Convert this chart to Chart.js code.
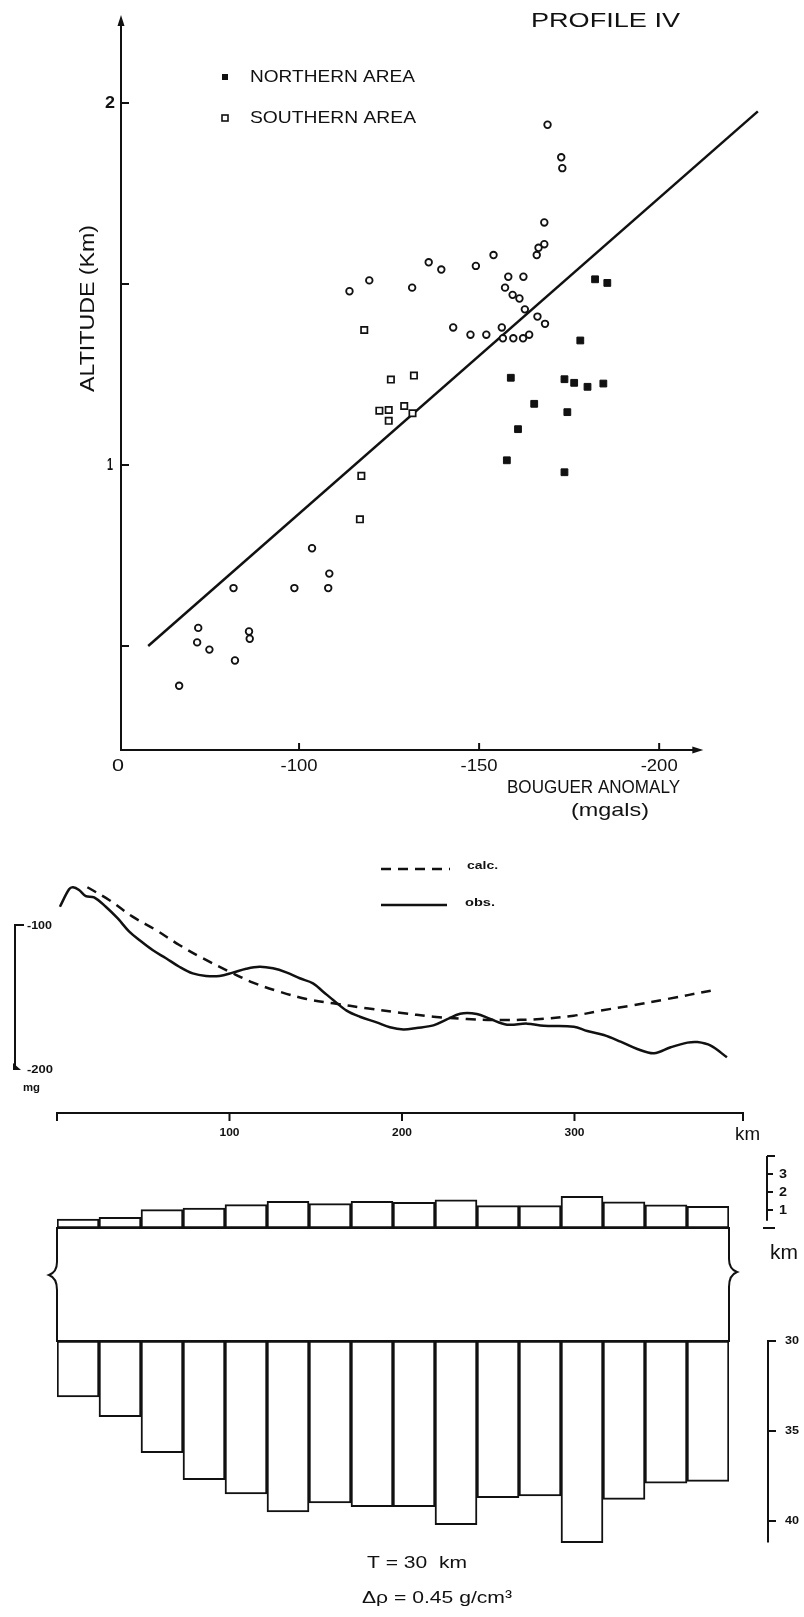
<!DOCTYPE html>
<html>
<head>
<meta charset="utf-8">
<title>Profile IV</title>
<script src="https://cdn.jsdelivr.net/npm/chart.js@4.4.1/dist/chart.umd.min.js"></script>
<style>
  html, body { margin: 0; padding: 0; background: #fff; }
  body { width: 804px; height: 1617px; position: relative; overflow: hidden; }
  canvas { position: absolute; left: 0; }
</style>
</head>
<body>
<canvas id="scatter" width="804" height="830" style="top:0"></canvas>
<canvas id="profile" width="804" height="320" style="top:830px"></canvas>
<canvas id="blocks" width="804" height="467" style="top:1150px"></canvas>
<script>
// ---- top panel: altitude vs Bouguer anomaly ----
const northAnomaly  = [-182.2, -185.6, -178.1, -158.8, -173.7, -176.4, -180.1, -184.5, -165.3, -174.5, -160.8, -157.7, -173.7];
const northAltitude = [1.513, 1.503, 1.344, 1.241, 1.237, 1.227, 1.216, 1.225, 1.169, 1.146, 1.099, 1.013, 0.98];

const southAnomaly  = [-118.1, -125.5, -131.9, -129.2, -131.5, -122.3, -124.9, -124.9, -117.3, -116.9];
const southAltitude = [1.373, 1.236, 1.247, 1.163, 1.143, 1.15, 1.152, 1.122, 0.97, 0.85];

// open circles (no legend entry in the original)
const circleAnomaly  = [-169.0, -172.8, -173.1, -168.1, -168.1, -166.5, -166.0, -136.0, -139.5, -149.1, -154.0,
                        -131.4, -158.1, -162.3, -157.2, -159.3, -161.2, -162.7, -166.2, -168.3, -142.8, -147.6,
                        -152.0, -156.3, -156.6, -159.5, -162.2, -163.9, -114.0, -119.5, -103.6, -108.4, -108.1,
                        -98.7, -81.8, -72.0, -71.7, -75.1, -86.1, -86.3, -82.2, -66.7];
const circleAltitude = [1.94, 1.85, 1.82, 1.67, 1.61, 1.60, 1.58, 1.56, 1.54, 1.55, 1.58,
                        1.49, 1.52, 1.52, 1.49, 1.47, 1.46, 1.43, 1.41, 1.39, 1.38, 1.36,
                        1.36, 1.38, 1.35, 1.35, 1.35, 1.36, 1.48, 1.51, 0.77, 0.70, 0.66,
                        0.66, 0.66, 0.55, 0.51, 0.49, 0.54, 0.52, 0.46, 0.39];

const fitAnomaly  = [-58.1, -227.4];
const fitAltitude = [0.5, 1.977];

const anomalyTicks      = [-50, -100, -150, -200];
const anomalyTickLabels = ['0', '-100', '-150', '-200'];
const altitudeTicks      = [0.5, 1, 1.5, 2];
const altitudeTickLabels = ['', '1', '', '2'];

// ---- middle panel: gravity profile (mgal along km) ----
const obsKm   = [1.7, 7.0, 9.3, 12.8, 16.7, 21.5, 28.3, 35.1, 41.9, 47.7, 55.4, 63.2, 70.9, 78.7, 86.4, 94.2,
                 101.9, 109.7, 117.4, 125.2, 132.9, 140.7, 148.4, 154.3, 160.1, 167.9, 175.6, 185.3, 193.0,
                 200.8, 208.5, 218.2, 226.0, 233.7, 243.4, 251.2, 260.9, 272.5, 282.2, 299.6, 307.4, 317.0,
                 326.7, 336.4, 346.1, 355.8, 365.5, 371.3, 379.0, 388.4];
const obsMgal = [-87.3, -75.2, -73.8, -75.7, -79.9, -80.8, -87.3, -95.3, -104.6, -110.4, -117.4, -123.1, -129.0,
                 -133.6, -135.4, -135.4, -133.1, -130.4, -129.0, -130.1, -132.9, -137.0, -140.5, -146.3, -152.1,
                 -159.5, -163.7, -167.6, -171.0, -172.5, -171.5, -169.7, -165.6, -161.6, -161.8, -165.3, -169.2,
                 -168.5, -170.0, -170.6, -173.6, -176.4, -181.0, -186.1, -189.1, -184.9, -181.7, -181.3, -183.8, -191.9];

const calcKm   = [17.6, 30.2, 43.8, 57.4, 70.9, 84.5, 100.0, 113.6, 129.1, 144.6, 160.1, 179.5, 198.8, 218.2,
                  237.6, 257.0, 280.2, 299.6, 315.1, 334.5, 353.9, 379.0];
const calcMgal = [-73.8, -82.6, -94.2, -103.5, -113.9, -123.1, -132.4, -140.0, -146.3, -151.4, -154.4, -157.8,
                  -160.9, -163.7, -165.3, -166.0, -165.3, -163.0, -159.5, -155.6, -151.4, -145.6];

const kmTicks      = [0, 100, 200, 300, 397.7];
const kmTickLabels = ['', '100', '200', '300', ''];
const mgalTicks      = [-100, -200];
const mgalTickLabels = ['-100', '-200'];

// ---- bottom panel: block model ----
const blockLabels = ['1', '2', '3', '4', '5', '6', '7', '8', '9', '10', '11', '12', '13', '14', '15', '16'];
const topoHeight  = [0.5, 0.59, 1.02, 1.11, 1.3, 1.48, 1.35, 1.48, 1.43, 1.57, 1.24, 1.24, 1.76, 1.46, 1.28, 1.2];
const mohoDepth   = [33.1, 34.2, 36.2, 37.7, 38.5, 39.5, 39.0, 39.2, 39.2, 40.2, 38.7, 38.6, 41.2, 38.8, 37.9, 37.8];
const crustT = 30;

const topoTicks      = [1, 2, 3];
const topoTickLabels = ['1', '2', '3'];
const mohoTicks      = [30, 35, 40];
const mohoTickLabels = ['30', '35', '40'];

const ink = '#111';
const sans = '"Liberation Sans", Arial, sans-serif';

// draw text squeezed/stretched to a given width, left edge at x, centred on y
function fitText(ctx, text, x, y, width, font) {
    ctx.save();
    ctx.font = font;
    ctx.fillStyle = ink;
    ctx.textBaseline = 'middle';
    ctx.textAlign = 'left';
    const w = ctx.measureText(text).width;
    ctx.translate(x, y);
    ctx.scale(width / w, 1);
    ctx.fillText(text, 0, 0);
    ctx.restore();
}

function line(ctx, x1, y1, x2, y2, w) {
    ctx.beginPath();
    ctx.lineWidth = w || 2;
    ctx.moveTo(x1, y1);
    ctx.lineTo(x2, y2);
    ctx.stroke();
}

function tri(ctx, pts) {
    ctx.beginPath();
    ctx.moveTo(pts[0], pts[1]);
    ctx.lineTo(pts[2], pts[3]);
    ctx.lineTo(pts[4], pts[5]);
    ctx.closePath();
    ctx.fill();
}

function pts(xs, ys) {
    return xs.map((x, i) => ({ x: x, y: ys[i] }));
}

const baseOpts = {
    responsive: false,
    animation: false,
    events: [],
    plugins: { legend: { display: false }, tooltip: { enabled: false } }
};

// ---------------- top scatter ----------------
const scatterDecor = {
    id: 'scatterDecor',
    afterDraw(chart) {
        const { ctx, chartArea: a, scales: { x, y } } = chart;
        ctx.save();
        ctx.strokeStyle = ink;
        ctx.fillStyle = ink;
        const ax = a.left + 2, ay = a.bottom;
        const xEnd = x.getPixelForValue(-211.7);
        line(ctx, ax, ay + 1, ax, a.top + 4, 2);
        tri(ctx, [ax, a.top - 2, ax - 3.5, a.top + 9, ax + 3.5, a.top + 9]);
        line(ctx, ax - 1, ay, xEnd - 4, ay, 2);
        tri(ctx, [xEnd + 2, ay, xEnd - 9, ay - 3.5, xEnd - 9, ay + 3.5]);

        altitudeTicks.forEach((v, i) => {
            const py = y.getPixelForValue(v);
            line(ctx, ax, py, ax + 8, py, 2);
            if (altitudeTickLabels[i]) {
                const w = altitudeTickLabels[i] === '1' ? 6 : 10;
                fitText(ctx, altitudeTickLabels[i], 110 - w / 2, py, w, 'bold 17px ' + sans);
            }
        });
        anomalyTicks.forEach((v, i) => {
            const px = x.getPixelForValue(v);
            if (i > 0) line(ctx, px, ay, px, ay - 7, 2);
            const lab = anomalyTickLabels[i];
            const w = lab.length === 1 ? 12 : 37;
            fitText(ctx, lab, (i === 0 ? 118 : px) - w / 2, 766, w, '17px ' + sans);
        });

        fitText(ctx, 'PROFILE IV', 531, 21, 149, '20px ' + sans);
        fitText(ctx, 'BOUGUER ANOMALY', 507, 788, 173, '19px ' + sans);
        fitText(ctx, '(mgals)', 571, 811, 78, '19px ' + sans);

        ctx.save();
        ctx.translate(88, 392);
        ctx.rotate(-Math.PI / 2);
        fitText(ctx, 'ALTITUDE (Km)', 0, 0, 167, '20px ' + sans);
        ctx.restore();

        // legend
        ctx.fillRect(222, 74, 6, 6);
        ctx.lineWidth = 1.6;
        ctx.fillStyle = '#fff';
        ctx.fillRect(222, 115, 6, 6);
        ctx.strokeRect(222, 115, 6, 6);
        fitText(ctx, 'NORTHERN AREA', 250, 77, 165, '17px ' + sans);
        fitText(ctx, 'SOUTHERN AREA', 250, 118, 166, '17px ' + sans);
        ctx.restore();
    }
};

new Chart(document.getElementById('scatter'), {
    type: 'scatter',
    data: {
        datasets: [
            { label: 'NORTHERN AREA', data: pts(northAnomaly, northAltitude), pointStyle: 'rect', pointRadius: 4.8,
              backgroundColor: ink, borderColor: ink, borderWidth: 1 },
            { label: 'SOUTHERN AREA', data: pts(southAnomaly, southAltitude), pointStyle: 'rect', pointRadius: 4.5,
              backgroundColor: '#fff', borderColor: ink, borderWidth: 1.7 },
            { label: 'circles', data: pts(circleAnomaly, circleAltitude), pointStyle: 'circle', pointRadius: 3.3,
              backgroundColor: '#fff', borderColor: ink, borderWidth: 1.8 },
            { label: 'fit', data: pts(fitAnomaly, fitAltitude), showLine: true, pointRadius: 0,
              borderColor: ink, borderWidth: 2.5, tension: 0 }
        ]
    },
    options: Object.assign({}, baseOpts, {
        layout: { padding: { left: 119, right: 44, top: 17, bottom: 80 } },
        scales: {
            x: { type: 'linear', reverse: true, min: -228, max: -50, display: false },
            y: { type: 'linear', min: 0.2127, max: 2.2376, display: false }
        }
    }),
    plugins: [scatterDecor]
});

// ---------------- middle profile ----------------
const profileDecor = {
    id: 'profileDecor',
    afterDraw(chart) {
        const { ctx, chartArea: a, scales: { x, y } } = chart;
        ctx.save();
        ctx.strokeStyle = ink;
        ctx.fillStyle = ink;
        const small = 'bold 11px ' + sans;

        // km axis
        line(ctx, x.getPixelForValue(0) - 1, a.bottom, x.getPixelForValue(397.7) + 1, a.bottom, 2);
        kmTicks.forEach((v, i) => {
            const px = x.getPixelForValue(v);
            line(ctx, px, a.bottom, px, a.bottom + 8, 2);
            if (kmTickLabels[i]) fitText(ctx, kmTickLabels[i], px - 10, a.bottom + 20, 20, small);
        });
        fitText(ctx, 'km', 735, a.bottom + 22, 25, '19px ' + sans);

        // mgal bracket
        const top = y.getPixelForValue(mgalTicks[0]), bot = y.getPixelForValue(mgalTicks[1]);
        line(ctx, 15, top - 1, 15, bot, 2);
        line(ctx, 14, top, 24, top, 2);
        tri(ctx, [13, bot - 6, 13, bot + 1, 21, bot + 1]);
        fitText(ctx, mgalTickLabels[0], 27, top + 1, 25, small);
        fitText(ctx, mgalTickLabels[1], 27, bot + 1, 26, small);
        fitText(ctx, 'mg', 23, bot + 19, 17, small);

        // legend
        ctx.setLineDash([10, 7]);
        line(ctx, 381, 39, 450, 39, 2.5);
        ctx.setLineDash([]);
        line(ctx, 381, 75, 447, 75, 2.5);
        fitText(ctx, 'calc.', 467, 36, 31, small);
        fitText(ctx, 'obs.', 465, 73, 30, small);
        ctx.restore();
    }
};

new Chart(document.getElementById('profile'), {
    type: 'scatter',
    data: {
        datasets: [
            { label: 'calc.', data: pts(calcKm, calcMgal), showLine: true, pointRadius: 0,
              borderColor: ink, borderWidth: 2.5, borderDash: [10, 7], tension: 0.35 },
            { label: 'obs.', data: pts(obsKm, obsMgal), showLine: true, pointRadius: 0,
              borderColor: ink, borderWidth: 2.5, tension: 0.35 }
        ]
    },
    options: Object.assign({}, baseOpts, {
        layout: { padding: { left: 57, right: 61, top: 20, bottom: 37 } },
        scales: {
            x: { type: 'linear', min: 0, max: 397.7, display: false },
            y: { type: 'linear', min: -230.56, max: -47.92, display: false }
        }
    }),
    plugins: [profileDecor]
});

// ---------------- bottom block model ----------------
function brace(ctx, x, y1, y2, mid, dir) {
    ctx.beginPath();
    ctx.lineWidth = 2;
    ctx.moveTo(x, y1);
    ctx.lineTo(x, mid - 14);
    ctx.quadraticCurveTo(x, mid - 4, x + dir * 8, mid - 1);
    ctx.quadraticCurveTo(x, mid + 2, x, mid + 14);
    ctx.lineTo(x, y2);
    ctx.stroke();
}

const blockDecor = {
    id: 'blockDecor',
    afterDraw(chart) {
        const { ctx, chartArea: a, scales } = chart;
        const yT = scales.yTopo, yM = scales.yMoho;
        ctx.save();
        ctx.strokeStyle = ink;
        ctx.fillStyle = ink;
        const top = yT.getPixelForValue(0), bot = yM.getPixelForValue(crustT);

        // crust slab
        line(ctx, a.left - 1, top, a.right + 1, top, 2);
        line(ctx, a.left - 1, bot, a.right + 1, bot, 2);
        brace(ctx, a.left, top, bot, top + 48, -1);
        brace(ctx, a.right, top, bot, top + 45, 1);

        // topography scale
        const tx = 767;
        line(ctx, tx, yT.getPixelForValue(4), tx, yT.getPixelForValue(0.4), 2);
        line(ctx, tx, yT.getPixelForValue(4), tx + 8, yT.getPixelForValue(4), 2);
        line(ctx, tx - 4, top, tx + 8, top, 2);
        topoTicks.forEach((v, i) => {
            const py = yT.getPixelForValue(v);
            line(ctx, tx, py, tx + 6, py, 2);
            fitText(ctx, topoTickLabels[i], 779, py, 8, 'bold 13px ' + sans);
        });
        fitText(ctx, 'km', 770, 103, 28, '20px ' + sans);

        // moho depth scale
        const mx = 768;
        line(ctx, mx, bot - 1, mx, yM.getPixelForValue(41.2), 2);
        mohoTicks.forEach((v, i) => {
            const py = yM.getPixelForValue(v);
            line(ctx, mx, py, mx + 8, py, 2);
            fitText(ctx, mohoTickLabels[i], 785, py, 14, 'bold 11px ' + sans);
        });

        fitText(ctx, 'T = 30  km', 367, 413, 100, '17px ' + sans);
        fitText(ctx, 'Δρ = 0.45 g/cm³', 362, 448, 150, '17px ' + sans);
        ctx.restore();
    }
};

const barStyle = { backgroundColor: '#fff', borderColor: ink, borderWidth: 2, borderSkipped: false,
                   grouped: false, barPercentage: 1, categoryPercentage: 1 };

new Chart(document.getElementById('blocks'), {
    type: 'bar',
    data: {
        labels: blockLabels,
        datasets: [
            Object.assign({ label: 'topography', data: topoHeight.map(h => [0, h]), yAxisID: 'yTopo' }, barStyle),
            Object.assign({ label: 'moho', data: mohoDepth.map(d => [crustT, d]), yAxisID: 'yMoho' }, barStyle)
        ]
    },
    options: Object.assign({}, baseOpts, {
        layout: { padding: { left: 57, right: 75, top: 0, bottom: 37 } },
        scales: {
            x: { display: false },
            yTopo: { type: 'linear', position: 'left', min: -19.556, max: 4.333, display: false },
            yMoho: { type: 'linear', position: 'right', reverse: true, min: 19.389, max: 43.278, display: false }
        }
    }),
    plugins: [blockDecor]
});
</script>
</body>
</html>
